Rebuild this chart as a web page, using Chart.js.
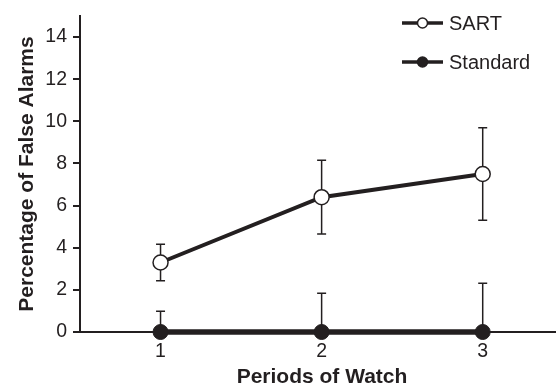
<!DOCTYPE html>
<html>
<head>
<meta charset="utf-8">
<script src="https://cdn.jsdelivr.net/npm/chart.js@4/dist/chart.umd.min.js"></script>
<style>
  html, body { margin: 0; padding: 0; background: #fff; overflow: hidden; }
  canvas { display: block; }
</style>
</head>
<body>
<canvas id="chart" width="556" height="385"></canvas>
<script>
// Mean false-alarm percentage per watch period, with standard-error bars
const periods = [1, 2, 3];
const sartMeans = [3.3, 6.4, 7.5];
const sartErrors = [0.87, 1.75, 2.2];
const standardMeans = [0, 0, 0];
const standardErrors = [0.98, 1.84, 2.31];
const yTicks = [0, 2, 4, 6, 8, 10, 12, 14];
const seriesNames = ['SART', 'Standard'];
const xTitle = 'Periods of Watch';
const yTitle = 'Percentage of False Alarms';

const INK = '#231f20';
const FONT = "'Liberation Sans', Arial, Helvetica, sans-serif";

const toPoints = (means) => periods.map((p, i) => ({ x: p, y: means[i] }));

// Vertical error bars with caps, drawn under the markers
const errorBars = {
  id: 'errorBars',
  beforeDatasetsDraw(chart) {
    const { ctx, chartArea, scales: { x, y } } = chart;
    ctx.save();
    ctx.beginPath();
    ctx.rect(chartArea.left, chartArea.top, chartArea.right - chartArea.left, chartArea.bottom - chartArea.top);
    ctx.clip();
    ctx.strokeStyle = INK;
    ctx.lineWidth = 1.5;
    const cap = 4.5;
    chart.data.datasets.forEach((ds) => {
      ds.data.forEach((pt, i) => {
        const err = ds.errors[i];
        const px = x.getPixelForValue(pt.x);
        const yTop = y.getPixelForValue(pt.y + err);
        const yBot = y.getPixelForValue(pt.y - err);
        ctx.beginPath();
        ctx.moveTo(px, yTop);
        ctx.lineTo(px, yBot);
        ctx.moveTo(px - cap, yTop);
        ctx.lineTo(px + cap, yTop);
        if (pt.y - err >= y.min) {
          ctx.moveTo(px - cap, yBot);
          ctx.lineTo(px + cap, yBot);
        }
        ctx.stroke();
      });
    });
    ctx.restore();
  }
};

// Axis titles and the line-and-marker legend
const decorations = {
  id: 'decorations',
  afterDraw(chart) {
    const { ctx, chartArea, width } = chart;
    ctx.save();
    ctx.fillStyle = INK;
    ctx.font = `bold 21px ${FONT}`;
    ctx.textAlign = 'center';
    ctx.textBaseline = 'alphabetic';
    ctx.fillText(xTitle, (chartArea.left + chartArea.right) / 2 + 4, 383);
    ctx.save();
    ctx.translate(33, (chartArea.top + chartArea.bottom) / 2);
    ctx.rotate(-Math.PI / 2);
    ctx.fillText(yTitle, 0, 0);
    ctx.restore();

    // legend
    const x0 = width - 154;
    const rows = [23, 62];
    chart.data.datasets.forEach((ds, i) => {
      const yy = rows[i];
      ctx.strokeStyle = INK;
      ctx.lineWidth = 3.5;
      ctx.beginPath();
      ctx.moveTo(x0, yy);
      ctx.lineTo(x0 + 41, yy);
      ctx.stroke();
      ctx.beginPath();
      ctx.arc(x0 + 20.5, yy, 5, 0, Math.PI * 2);
      ctx.fillStyle = ds.pointBackgroundColor;
      ctx.fill();
      ctx.lineWidth = 1.5;
      ctx.stroke();
      ctx.fillStyle = INK;
      ctx.font = `20px ${FONT}`;
      ctx.textAlign = 'left';
      ctx.textBaseline = 'middle';
      ctx.fillText(ds.label, x0 + 47, yy + 1);
    });
    ctx.restore();
  }
};

new Chart(document.getElementById('chart'), {
  type: 'line',
  data: {
    datasets: [
      {
        label: seriesNames[0],
        data: toPoints(sartMeans),
        errors: sartErrors,
        borderColor: INK,
        borderWidth: 4,
        pointRadius: 7.5,
        pointHoverRadius: 7.5,
        pointBorderWidth: 1.5,
        pointBackgroundColor: '#ffffff',
        pointBorderColor: INK,
        tension: 0,
        order: 1
      },
      {
        label: seriesNames[1],
        data: toPoints(standardMeans),
        errors: standardErrors,
        borderColor: INK,
        borderWidth: 5.5,
        pointRadius: 7.5,
        pointHoverRadius: 7.5,
        pointBorderWidth: 1,
        pointBackgroundColor: INK,
        pointBorderColor: INK,
        tension: 0,
        clip: false,
        order: 0
      }
    ]
  },
  options: {
    responsive: false,
    devicePixelRatio: 1,
    animation: false,
    layout: { autoPadding: false, padding: { top: 16, left: 0, right: 0, bottom: 0 } },
    plugins: { legend: { display: false }, tooltip: { enabled: false } },
    scales: {
      x: {
        type: 'linear',
        min: 0.5,
        max: 3.455,
        afterBuildTicks: (scale) => { scale.ticks = periods.map((v) => ({ value: v })); },
        afterFit: (scale) => {
          scale.height = 53;
          scale.paddingLeft = 0;
          scale.paddingRight = 0;
        },
        grid: { drawOnChartArea: false, drawTicks: false },
        border: { color: INK, width: 2 },
        ticks: { color: INK, padding: 8, font: { family: FONT, size: 19.5 }, maxRotation: 0 }
      },
      y: {
        type: 'linear',
        min: 0,
        max: 15,
        afterBuildTicks: (scale) => { scale.ticks = yTicks.map((v) => ({ value: v })); },
        afterFit: (scale) => {
          scale.width = 80;
          scale.paddingTop = 0;
          scale.paddingBottom = 0;
        },
        grid: { drawOnChartArea: false, drawTicks: true, tickLength: 7, color: INK, lineWidth: 2 },
        border: { color: INK, width: 2 },
        ticks: { color: INK, padding: 6, font: { family: FONT, size: 19.5 } }
      }
    }
  },
  plugins: [errorBars, decorations]
});
</script>
</body>
</html>
